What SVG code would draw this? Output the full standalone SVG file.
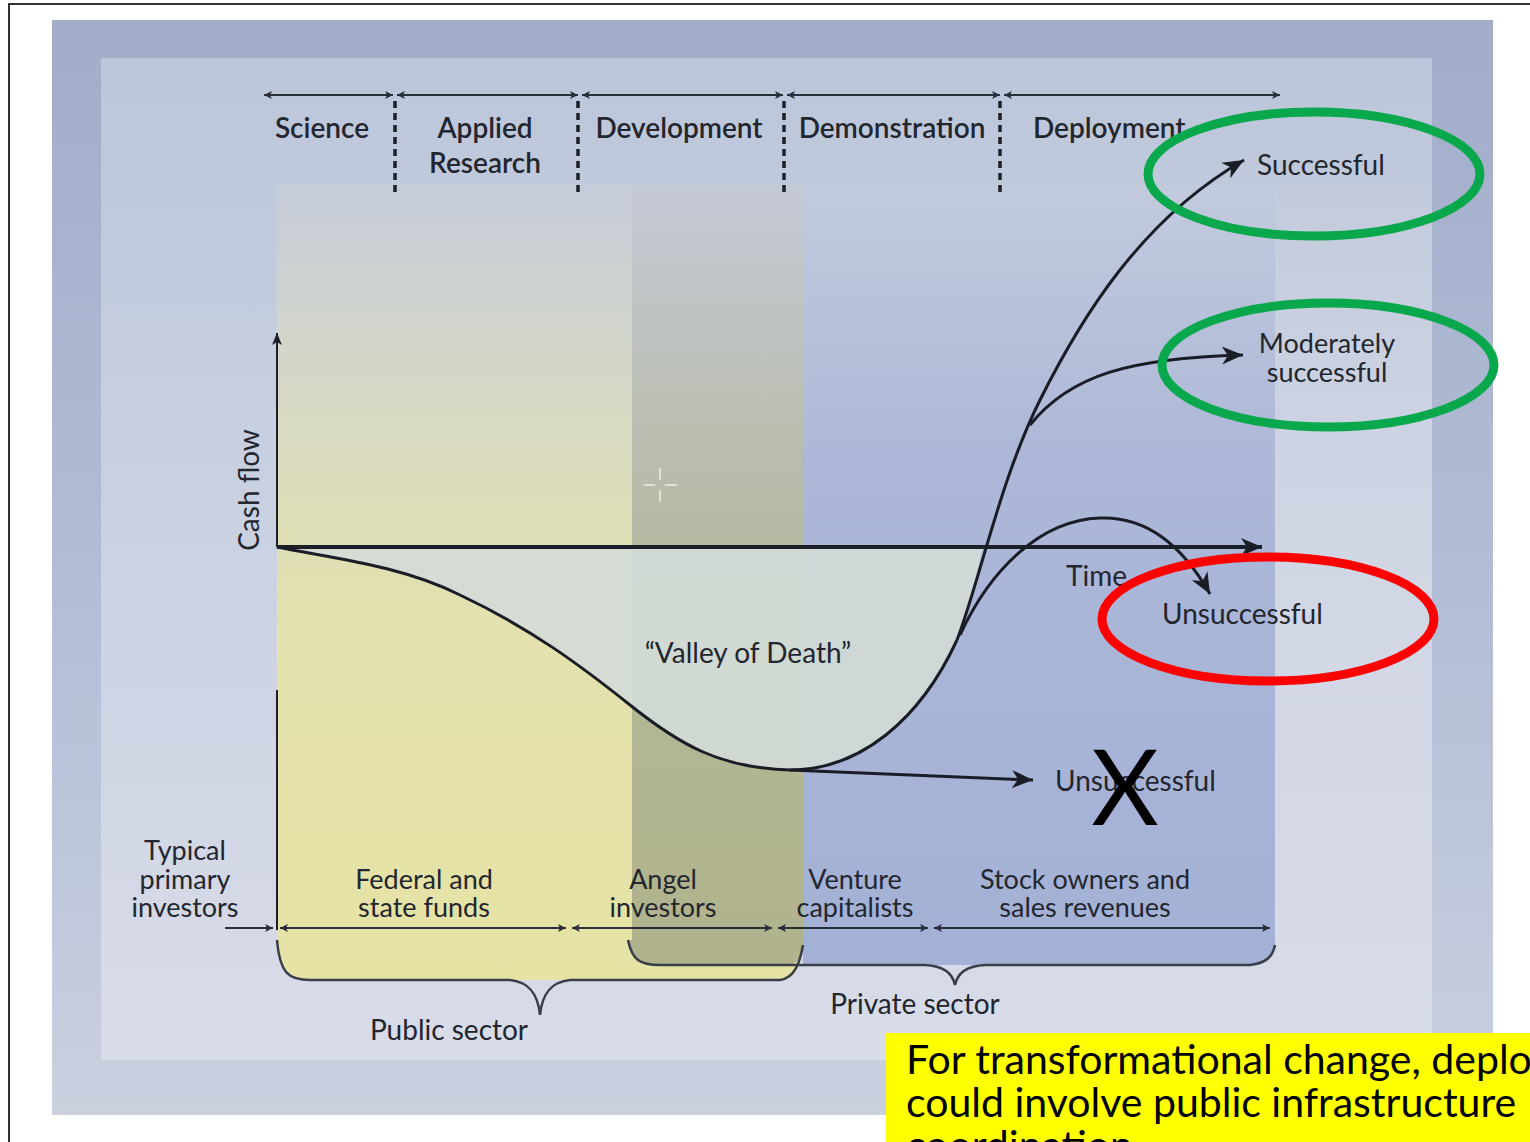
<svg xmlns="http://www.w3.org/2000/svg" width="1530" height="1142" viewBox="0 0 1530 1142">
  <style>
    .lbl { font-family: Lato, "Open Sans", "Liberation Sans", sans-serif; font-size: 28px; fill: #23262e; }
    .stg { font-weight: 600; }
    .sm { font-size: 27px; }
    .mid { text-anchor: middle; }
    .axis { stroke: #1c1f28; fill: none; }
    .tl { stroke: #2a2e38; stroke-width: 2; fill: none; marker-start: url(#tick); marker-end: url(#tick); }
    .dots { stroke: #1c1f28; stroke-width: 3.5; stroke-dasharray: 7 5; fill: none; }
    .curve { stroke: #1a1d26; stroke-width: 3; fill: none; }
    .brace { stroke: #3a3e48; stroke-width: 2.5; fill: none; }
    .ring { fill: none; stroke-width: 9; }
    .note { font-family: Lato, "Liberation Sans", sans-serif; font-size: 41px; fill: #000; }
  </style>
  <defs>
    <marker id="tick" viewBox="-8 -5 10 10" markerWidth="10" markerHeight="10" markerUnits="userSpaceOnUse" refX="0" refY="0" orient="auto-start-reverse">
      <path d="M0,0 L-8,-4 L-6,0 L-8,4 Z" fill="#2a2e38"/>
    </marker>
    <marker id="head" viewBox="-22 -10 24 20" markerWidth="24" markerHeight="20" markerUnits="userSpaceOnUse" refX="0" refY="0" orient="auto">
      <path d="M0,0 L-21,-9 L-15,0 L-21,9 Z" fill="#1a1d26"/>
    </marker>
    <marker id="headS" viewBox="-14 -7 16 14" markerWidth="16" markerHeight="14" markerUnits="userSpaceOnUse" refX="0" refY="0" orient="auto">
      <path d="M0,0 L-12,-5 L-9,0 L-12,5 Z" fill="#1c1f28"/>
    </marker>
    <linearGradient id="gOuter" x1="0" y1="0" x2="0" y2="1">
      <stop offset="0" stop-color="#a2adca"/>
      <stop offset="0.5" stop-color="#b1bcd6"/>
      <stop offset="1" stop-color="#cbd0df"/>
    </linearGradient>
    <linearGradient id="gInner" x1="0" y1="0" x2="0" y2="1">
      <stop offset="0" stop-color="#bcc6da"/>
      <stop offset="0.5" stop-color="#cbd2e2"/>
      <stop offset="1" stop-color="#d9dce9"/>
    </linearGradient>
    <linearGradient id="gYellow" gradientUnits="userSpaceOnUse" x1="0" y1="185" x2="0" y2="980">
      <stop offset="0" stop-color="#c6ccda"/>
      <stop offset="0.3" stop-color="#d8dac2"/>
      <stop offset="0.55" stop-color="#e3e1ad"/>
      <stop offset="1" stop-color="#e6e3a5"/>
    </linearGradient>
    <linearGradient id="gOlive" gradientUnits="userSpaceOnUse" x1="0" y1="185" x2="0" y2="965">
      <stop offset="0" stop-color="#c4c9d6"/>
      <stop offset="0.35" stop-color="#b9bdad"/>
      <stop offset="0.6" stop-color="#b3b796"/>
      <stop offset="1" stop-color="#b0b38c"/>
    </linearGradient>
    <linearGradient id="gBlue" gradientUnits="userSpaceOnUse" x1="0" y1="185" x2="0" y2="965">
      <stop offset="0" stop-color="#c2cadd"/>
      <stop offset="0.35" stop-color="#adb8d8"/>
      <stop offset="1" stop-color="#a3b1d6"/>
    </linearGradient>
    <linearGradient id="gRight" gradientUnits="userSpaceOnUse" x1="0" y1="185" x2="0" y2="1060">
      <stop offset="0" stop-color="#c3cbdc"/>
      <stop offset="0.4" stop-color="#d1d6e5"/>
      <stop offset="1" stop-color="#d8dbe8"/>
    </linearGradient>
  </defs>

  <!-- page frame and backdrop panels -->
  <rect x="9" y="4" width="1540" height="1160" fill="#ffffff" stroke="#333333" stroke-width="2"/>
  <rect x="52" y="20" width="1441" height="1095" fill="url(#gOuter)"/>
  <rect x="101" y="58" width="1331" height="1002" fill="url(#gInner)"/>
  <rect x="1275" y="185" width="157" height="875" fill="url(#gRight)"/>

  <!-- funding bands -->
  <g id="band-public">
    <path d="M277,185 L800,185 L800,960 C797,975 790,980 780,980 L310,980 C290,980 280,975 277,940 Z" fill="url(#gYellow)"/>
  </g>
  <g id="band-angel">
    <path d="M632,185 L803,185 L803,948 C800,962 795,965 785,965 L660,965 C640,965 632,960 628,940 L632,940 Z" fill="url(#gOlive)"/>
  </g>
  <g id="band-private">
    <path d="M803,185 L1275,185 L1275,945 C1273,955 1268,963 1250,965 L803,965 Z" fill="url(#gBlue)"/>
  </g>

  <!-- valley area under the time axis -->
  <path d="M277,547 C330,558 400,565 460,595 C530,628 580,665 630,705 C680,745 720,768 790,770 C860,770 920,720 957,640 C968,612 975,580 983,547 Z" fill="#d3dbd7" fill-opacity="0.92"/>

  <!-- pointer crosshair -->
  <g stroke="#eef0dc" stroke-width="1.5">
    <line x1="644" y1="485" x2="655" y2="485"/>
    <line x1="665" y1="485" x2="677" y2="485"/>
    <line x1="660" y1="468" x2="660" y2="480"/>
    <line x1="660" y1="490" x2="660" y2="502"/>
  </g>

  <!-- stage timeline -->
  <g id="stages">
    <line class="tl" x1="264" y1="95" x2="393" y2="95"/>
    <line class="tl" x1="397" y1="95" x2="578" y2="95"/>
    <line class="tl" x1="582" y1="95" x2="783" y2="95"/>
    <line class="tl" x1="787" y1="95" x2="1000" y2="95"/>
    <line class="tl" x1="1004" y1="95" x2="1280" y2="95"/>
    <line class="dots" x1="395" y1="101" x2="395" y2="192"/>
    <line class="dots" x1="578" y1="101" x2="578" y2="192"/>
    <line class="dots" x1="784" y1="101" x2="784" y2="192"/>
    <line class="dots" x1="1000" y1="101" x2="1000" y2="192"/>
  </g>
  <g id="stage-science"><text class="lbl stg mid" x="322" y="138">Science</text></g>
  <g id="stage-applied"><text class="lbl stg mid" x="485" y="138">Applied</text><text class="lbl stg mid" x="485" y="173">Research</text></g>
  <g id="stage-development"><text class="lbl stg mid" x="679" y="138">Development</text></g>
  <g id="stage-demonstration"><text class="lbl stg mid" x="892" y="138">Demonstration</text></g>
  <g id="stage-deployment"><text class="lbl stg" x="1033" y="138">Deployment</text></g>

  <!-- axes -->
  <g id="axes">
    <line class="axis" x1="277" y1="547" x2="277" y2="333" stroke-width="2" marker-end="url(#headS)"/>
    <line class="axis" x1="277" y1="690" x2="277" y2="930" stroke-width="2"/>
    <line class="axis" x1="277" y1="547" x2="1262" y2="547" stroke-width="4" marker-end="url(#head)"/>
    <text class="lbl mid" transform="translate(259,490) rotate(-90)">Cash flow</text>
    <text class="lbl" x="1066" y="586">Time</text>
  </g>

  <!-- cash-flow trajectories -->
  <g id="connectors">
    <path class="curve" d="M277,547 C330,558 400,565 460,595 C530,628 580,665 630,705 C680,745 720,768 790,770 C860,770 920,720 957,640"/>
    <path class="curve" d="M957,640 C980,580 1000,480 1040,400 C1080,320 1140,220 1244,160" marker-end="url(#head)"/>
    <path class="curve" d="M1030,425 C1070,375 1130,358 1243,355" marker-end="url(#head)"/>
    <path class="curve" d="M960,635 C990,570 1040,520 1100,518 C1150,516 1185,550 1210,594" marker-end="url(#head)"/>
    <path class="curve" d="M790,770 L1033,780" marker-end="url(#head)"/>
  </g>

  <!-- outcome labels -->
  <g id="out-successful"><text class="lbl" x="1257" y="175">Successful</text></g>
  <g id="out-moderate"><text class="lbl sm mid" x="1327" y="353">Moderately</text><text class="lbl sm mid" x="1327" y="382">successful</text></g>
  <g id="out-unsuccessful-late"><text class="lbl" x="1162" y="624">Unsuccessful</text></g>
  <g id="valley"><text class="lbl mid" x="748" y="663">“Valley of Death”</text></g>
  <g id="out-unsuccessful-early"><text class="lbl" x="1055" y="791">Unsuccessful</text></g>
  <text x="1125" y="825" text-anchor="middle" font-family="Lato, 'Liberation Sans', sans-serif" font-size="104" fill="#000">X</text>

  <!-- highlight rings -->
  <ellipse class="ring" cx="1314" cy="174" rx="166" ry="62" stroke="#0aa84c"/>
  <ellipse class="ring" cx="1328" cy="365" rx="166" ry="62" stroke="#0aa84c"/>
  <ellipse class="ring" cx="1268" cy="619" rx="166" ry="62" stroke="#ff0000"/>

  <!-- investor timeline -->
  <g id="investors">
    <line x1="225" y1="928" x2="273" y2="928" stroke="#2a2e38" stroke-width="2" marker-end="url(#tick)"/>
    <line class="tl" x1="280" y1="928" x2="566" y2="928"/>
    <line class="tl" x1="572" y1="928" x2="772" y2="928"/>
    <line class="tl" x1="778" y1="928" x2="928" y2="928"/>
    <line class="tl" x1="934" y1="928" x2="1270" y2="928"/>
  </g>
  <g id="inv-typical"><text class="lbl sm mid" x="185" y="860">Typical</text><text class="lbl sm mid" x="185" y="889">primary</text><text class="lbl sm mid" x="185" y="917">investors</text></g>
  <g id="inv-federal"><text class="lbl sm mid" x="424" y="889">Federal and</text><text class="lbl sm mid" x="424" y="917">state funds</text></g>
  <g id="inv-angel"><text class="lbl sm mid" x="663" y="889">Angel</text><text class="lbl sm mid" x="663" y="917">investors</text></g>
  <g id="inv-venture"><text class="lbl sm mid" x="855" y="889">Venture</text><text class="lbl sm mid" x="855" y="917">capitalists</text></g>
  <g id="inv-stock"><text class="lbl sm mid" x="1085" y="889">Stock owners and</text><text class="lbl sm mid" x="1085" y="917">sales revenues</text></g>

  <!-- sector braces -->
  <g id="sector-public">
    <path class="brace" d="M277,940 C280,975 290,980 310,980 L510,980 C530,982 538,995 540,1015 C542,995 550,982 570,980 L780,980 C795,978 800,962 803,945"/>
    <text class="lbl mid" x="449" y="1040">Public sector</text>
  </g>
  <g id="sector-private">
    <path class="brace" d="M628,940 C632,960 640,965 660,965 L925,965 C945,966 953,975 955,985 C957,975 965,966 985,965 L1250,965 C1268,963 1273,955 1275,945"/>
    <text class="lbl mid" x="915" y="1014">Private sector</text>
  </g>

  <!-- callout -->
  <g id="callout">
    <rect x="886" y="1033" width="700" height="200" fill="#ffff00"/>
    <text class="note" x="906" y="1074">For transformational change, deployment</text>
    <text class="note" x="906" y="1117">could involve public infrastructure</text>
    <text class="note" x="906" y="1160">coordination</text>
  </g>
</svg>
